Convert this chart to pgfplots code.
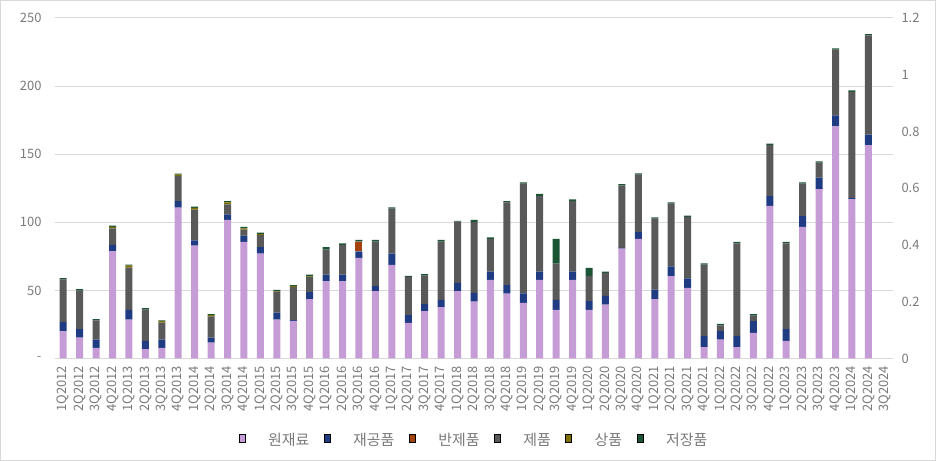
\documentclass[border=0pt]{standalone}
\usepackage{fontspec}
\setmainfont{Noto Sans CJK KR}
\usepackage{pgfplots}
\usepackage{pgfplotstable}
\pgfplotsset{compat=1.18}

\definecolor{cRaw}{HTML}{C59CD5}
\definecolor{cWip}{HTML}{1F3C82}
\definecolor{cSemi}{HTML}{A3420A}
\definecolor{cFin}{HTML}{595959}
\definecolor{cGoods}{HTML}{7F7000}
\definecolor{cStore}{HTML}{1B5536}
\definecolor{gridc}{HTML}{D9D9D9}
\definecolor{txt}{HTML}{7A7A7A}

% idx: quarter index (0 = 1Q2012); a..f = stacked inventory parts
\pgfplotstableread{
idx a b c d e f
0 20.0 6.7 0 31.3 0 1.0
1 15.4 6.1 0 28.4 0 1.0
2 7.8 6.1 0 14.0 0 1.0
3 78.7 4.7 0 12.2 1.0 1.0
4 28.6 7.1 0 31.0 1.5 0.8
5 6.8 6.2 0 22.9 0 1.0
6 7.8 6.1 0 12.5 1.0 0.5
7 110.8 4.8 0 18.4 1.0 0.7
8 82.9 3.9 0 22.5 1.2 1.0
9 11.7 3.7 0 15.6 0.8 0.7
10 101.7 4.2 0 7.3 1.5 0.9
11 85.6 4.6 0 4.4 1.0 1.0
12 77.0 4.7 0 8.8 0.9 1.0
13 28.6 5.1 0 15.4 0.3 1.0
14 27.6 0.5 0 24.5 0.7 0.5
15 43.5 5.2 0 11.2 0.3 1.4
16 56.7 4.9 0 18.4 0 1.7
17 56.7 4.9 0 21.8 0 1.2
18 73.8 4.9 7.1 0.4 0 0.8
19 49.4 3.7 0 32.7 0 1.2
20 68.7 8.3 0 33.0 0 1.0
21 26.2 5.6 0 28.1 0 0.7
22 34.7 5.4 0 20.8 0 1.0
23 37.7 5.3 0 42.8 0 1.2
24 49.4 6.1 0 45.0 0 0.5
25 41.8 6.4 0 52.0 0 1.5
26 57.7 6.1 0 24.0 0 1.2
27 47.7 6.1 0 60.9 0 0.9
28 40.8 7.1 0 80.5 0 0.9
29 57.7 6.1 0 55.5 0 1.5
30 35.7 7.3 0 26.7 0 18.1
31 57.7 6.1 0 51.8 0 1.3
32 35.7 6.4 0 18.3 0 6.1
33 39.6 6.4 0 16.8 0 1.0
34 80.7 0.5 0 45.9 0 1.0
35 87.8 4.9 0 42.3 0 0.9
36 43.5 7.1 0 52.1 0 1.0
37 60.4 7.3 0 46.0 0 1.0
38 51.8 7.1 0 45.0 0 1.0
39 8.3 8.3 0 52.3 0 1.0
40 13.9 6.4 0 4.1 0 1.0
41 8.3 8.3 0 68.0 0 1.0
42 18.8 8.6 0 4.1 0 1.0
43 112.0 7.3 0 37.4 0 1.0
44 13.0 8.5 0 63.1 0 1.0
45 96.6 8.0 0 23.8 0 0.9
46 124.4 8.4 0 11.0 0 0.9
47 170.4 8.1 0 48.2 0 0.9
48 116.9 0.9 0 78.0 0 1.0
49 156.7 7.6 0 72.9 0 0.9
}\inv

\begin{document}
\begin{tikzpicture}[x=1bp,y=1bp]
\draw[color=gridc, line width=1bp] (0.5,0.5) rectangle (935.5,460.5);
\begin{axis}[
  at={(55bp,102.5bp)}, anchor=south west,
  scale only axis, width=838bp, height=340.5bp,
  ybar stacked, bar width=7bp,
  xmin=-0.5, xmax=50.5, ymin=0, ymax=250,
  enlarge x limits=false,
  axis line style={draw=none},
  tick style={draw=none},
  ymajorgrids, grid style={color=gridc, line width=1bp},
  ytick={0,50,...,250},
  yticklabels={-,50,100,150,200,250},
  xtick={0,...,50},
  xticklabels={1Q2012,2Q2012,3Q2012,4Q2012,1Q2013,2Q2013,3Q2013,4Q2013,1Q2014,2Q2014,3Q2014,4Q2014,1Q2015,2Q2015,3Q2015,4Q2015,1Q2016,2Q2016,3Q2016,4Q2016,1Q2017,2Q2017,3Q2017,4Q2017,1Q2018,2Q2018,3Q2018,4Q2018,1Q2019,2Q2019,3Q2019,4Q2019,1Q2020,2Q2020,3Q2020,4Q2020,1Q2021,2Q2021,3Q2021,4Q2021,1Q2022,2Q2022,3Q2022,4Q2022,1Q2023,2Q2023,3Q2023,4Q2023,1Q2024,2Q2024,3Q2024},
  x tick label style={rotate=90, anchor=east},
  xticklabel shift=4bp,
  yticklabel shift=10bp,
  every tick label/.append style={font=\fontsize{13}{15}\selectfont, text=txt},
  /pgf/number format/assume math mode=true,
  ybar legend/.style={legend image code/.code={\fill[##1] (0bp,-3bp) rectangle (6bp,3bp);}},
  legend columns=6,
  legend style={draw=none, fill=none, at={(0.5,-0.241)}, anchor=center,
    font=\fontsize{15}{17}\selectfont, text=txt,
    /tikz/every odd column/.append style={column sep=21bp},
    /tikz/every even column/.append style={column sep=12.5bp}},
]
\addplot[fill=cRaw, draw=none] table[x=idx, y=a] {\inv};
\addplot[fill=cWip, draw=none] table[x=idx, y=b] {\inv};
\addplot[fill=cSemi, draw=none] table[x=idx, y=c] {\inv};
\addplot[fill=cFin, draw=none] table[x=idx, y=d] {\inv};
\addplot[fill=cGoods, draw=none] table[x=idx, y=e] {\inv};
\addplot[fill=cStore, draw=none] table[x=idx, y=f] {\inv};
\legend{원재료,재공품,반제품,제품,상품,저장품}
\end{axis}
\begin{axis}[
  at={(55bp,102.5bp)}, anchor=south west,
  scale only axis, width=838bp, height=340.5bp,
  xmin=-0.5, xmax=50.5, ymin=0, ymax=1.2,
  axis x line=none, axis y line*=right,
  axis line style={draw=none}, tick style={draw=none},
  ytick={0,0.2,...,1.2},
  yticklabels={0,0.2,0.4,0.6,0.8,1,1.2},
  every tick label/.append style={font=\fontsize{13}{15}\selectfont, text=txt},
  yticklabel style={anchor=west},
  yticklabel shift=5bp,
]
\end{axis}
\end{tikzpicture}
\end{document}
